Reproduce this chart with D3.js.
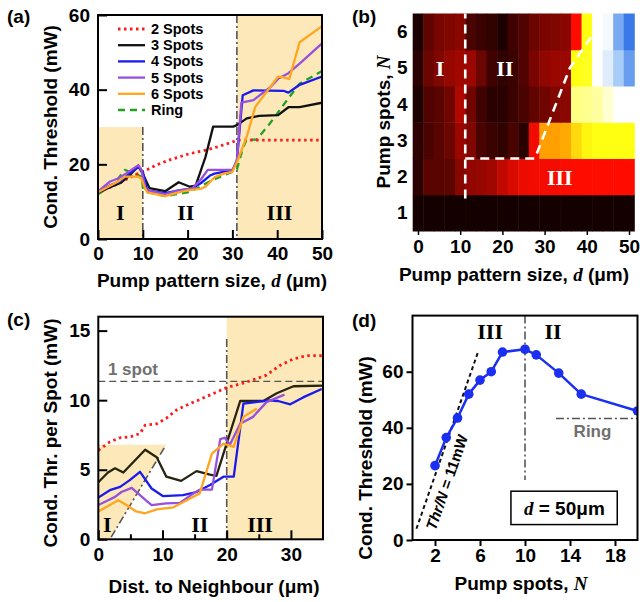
<!DOCTYPE html>
<html>
<head>
<meta charset="utf-8">
<script src="https://cdn.jsdelivr.net/npm/d3@7"></script>
<style>
  body { margin: 0; background: #fff; }
  text { font-family: "Liberation Sans", Arial, sans-serif; font-weight: bold; }
  .serif { font-family: "Liberation Serif", "Times New Roman", serif; }
</style>
</head>
<body>
<svg id="fig" width="640" height="602"></svg>
<script>
// ---- panel (a): threshold vs pattern size
var aRedX = [0, 3, 6, 8, 10, 13, 16, 20, 24, 27, 30, 31.5, 35, 40, 45, 50];
var aRedY = [12.5, 14, 15.8, 17, 18, 19.8, 21.2, 22.7, 23.8, 24.8, 26, 26.5, 26.5, 26.5, 26.5, 26.5];
var aBlackX = [0, 3, 5, 7, 9, 10, 11.5, 15, 18, 20.5, 21.8, 24, 25.7, 30.2, 31, 33.2, 36, 40.2, 42.5, 45, 50];
var aBlackY = [12.5, 14, 15, 17, 19.5, 17.5, 13.6, 12.8, 15.2, 14, 14.3, 22, 30.1, 30.1, 30.5, 32.3, 33, 33.2, 35.3, 35.3, 36.5];
var aBlueX = [0, 3, 5, 7, 9, 10, 11, 15, 18, 21, 23, 25, 26, 28, 30, 31, 32.3, 34.7, 41.4, 42.5, 45, 50];
var aBlueY = [12.5, 14.5, 15.5, 17.5, 19.3, 18, 13, 12.3, 13, 13.5, 15, 17, 17.5, 18, 18.3, 21, 38.5, 39.8, 39.7, 39.2, 41.3, 43.5];
var aPurpleX = [0, 2.7, 4.5, 6.4, 9, 9.7, 10.5, 11, 15, 18, 21, 23, 24.5, 27, 30, 31, 32, 34.7, 38.4, 40.2, 42.5, 45, 50];
var aPurpleY = [12.7, 15.4, 16.2, 17.6, 19.8, 18.5, 14, 13, 12, 13, 13.5, 16, 18.5, 18.5, 18.5, 21, 36.5, 37.2, 40.6, 42.9, 44.4, 47, 52.4];
var aOrangeX = [0, 4.5, 6, 9, 9.7, 10.5, 11, 15, 18, 20, 23, 24, 26, 28, 30, 31, 33.2, 35.1, 38.4, 40.2, 41.4, 42.7, 45, 50];
var aOrangeY = [12.5, 15.4, 16.7, 16.7, 16.2, 13.5, 12.5, 11.5, 12.5, 13, 13.5, 14, 16.5, 17.5, 18, 20.5, 27.4, 35.4, 40.6, 43.5, 43.3, 42.9, 52.7, 57];
var aRingX = [0, 3.4, 6, 7.9, 9.7, 10.1, 11.2, 15, 20, 22, 25, 28, 30, 31, 32.4, 33.2, 35.4, 38.4, 42.7, 45, 50];
var aRingY = [12, 14.5, 18.5, 17.6, 16.7, 13.1, 12.5, 11.5, 12.5, 13.5, 15.5, 17, 18, 18.6, 24.6, 26.6, 26.6, 31, 38, 41.6, 45];
var aXTicks = [0, 10, 20, 30, 40, 50];
var aYTicks = [0, 20, 40, 60];
var legendNames = ['2 Spots', '3 Spots', '4 Spots', '5 Spots', '6 Spots', 'Ring'];

// ---- panel (b): heat map, rows N = 1..6, columns d = 0..50
var bD = [0, 2.5, 5, 7.5, 10, 12.5, 15, 17.5, 20, 22.5, 25, 27.5, 30, 32.5, 35, 37.5, 40, 42.5, 45, 47.5, 50];
var bN = [1, 2, 3, 4, 5, 6];
var bLevels = [
  [0.01, 0.01, 0.01, 0.01, 0.01, 0.01, 0.01, 0.01, 0.01, 0.01, 0.01, 0.01, 0.01, 0.01, 0.01, 0.01, 0.01, 0.01, 0.01, 0.01, 0.01],
  [0.055, 0.155, 0.155, 0.16, 0.25, 0.27, 0.28, 0.3, 0.37, 0.42, 0.46, 0.47, 0.48, 0.48, 0.49, 0.5, 0.5, 0.5, 0.5, 0.5, 0.5],
  [0.06, 0.12, 0.155, 0.19, 0.29, 0.234, 0.12, 0.088, 0.067, 0.12, 0.055, 0.47, 0.6, 0.6, 0.61, 0.66, 0.69, 0.7, 0.7, 0.7, 0.7],
  [0.025, 0.134, 0.155, 0.2, 0.335, 0.2, 0.1, 0.055, 0.055, 0.088, 0.12, 0.167, 0.2, 0.234, 0.255, 0.77, 0.78, 0.79, 0.82, 0.85, 0.85],
  [0.055, 0.188, 0.234, 0.28, 0.3, 0.289, 0.188, 0.1, 0.067, 0.088, 0.134, 0.222, 0.268, 0.289, 0.289, 0.7, 0.71, 0.85, 0.88, 0.93, 0.97],
  [0.025, 0.167, 0.218, 0.234, 0.255, 0.12, 0.088, 0.067, 0.025, 0.1, 0.134, 0.188, 0.222, 0.234, 0.255, 0.5, 0.7, 0.85, 0.86, 0.96, 1.0]
];
var bXTicks = [0, 10, 20, 30, 40, 50];
var bBorderV = [[11.2, 1.4], [11.2, 6.5]];
var bBorderH = [[11.2, 2.5], [27.7, 2.5], [36, 5], [41, 5.85]];

// ---- panel (c): threshold per spot vs distance to neighbour
var cRedX = [0, 1.8, 3.4, 4.9, 6.5, 7.3, 9.1, 10.6, 12.2, 14.3, 16.9, 20, 23.1, 26.2, 28.3, 30.4, 32.5, 35];
var cRedY = [6.4, 7.0, 7.3, 7.35, 7.6, 8.2, 8.3, 8.7, 9.3, 9.75, 10.27, 10.9, 11.3, 11.8, 12.5, 12.97, 13.2, 13.2];
var cBlackX = [0, 1.5, 2.6, 3.9, 7.3, 9.1, 10.6, 12.9, 15.3, 17.4, 18.4, 20, 22.1, 25.7, 27.8, 30.4, 35];
var cBlackY = [4.1, 4.8, 5.1, 4.8, 6.44, 5.9, 4.5, 4.2, 4.9, 4.65, 4.56, 6.9, 9.94, 9.94, 10.5, 11.0, 11.05];
var cBlueX = [0, 1.8, 3.4, 4.9, 6.5, 8.3, 10.1, 13.2, 15.3, 17.4, 19.5, 21.1, 22.6, 26.5, 28, 29.9, 31.9, 34.8];
var cBlueY = [3.0, 3.53, 3.77, 4.25, 4.85, 3.65, 3.1, 3.17, 3.4, 3.9, 4.5, 4.5, 9.75, 9.99, 9.94, 9.7, 10.2, 10.8];
var cPurpleX = [0, 1.3, 2.6, 3.6, 5.2, 6.8, 8.3, 10.6, 12.7, 14.8, 15.8, 17.7, 19, 19.7, 20.5, 22.1, 24.1, 26.2, 29];
var cPurpleY = [2.46, 2.75, 3.05, 3.4, 3.7, 3.05, 2.46, 2.58, 2.62, 3.29, 3.57, 3.57, 7.2, 7.3, 6.8, 8.3, 8.8, 9.86, 10.4];
var cOrangeX = [0, 1.8, 3.1, 4.4, 5.9, 7.3, 9.1, 11.7, 14.3, 15.8, 17.7, 19.5, 21.1, 22.6, 24.7];
var cOrangeY = [2.0, 2.46, 2.8, 2.46, 2.0, 1.87, 2.15, 2.3, 2.94, 3.3, 6.16, 6.88, 6.64, 8.8, 9.39];
var cShadeI = [[0, 0], [0, 6.8], [10.6, 6.8], [1.8, 0]];
var cXTicks = [0, 10, 20, 30];
var cXMinor = [5, 15, 25];
var cYTicks = [0, 5, 10, 15];
var cOneSpot = 11.35;

// ---- panel (d): threshold vs number of spots at d = 50 um
var dN = [2, 3, 4, 5, 6, 7, 8, 10, 11, 13, 15, 20];
var dThr = [26.5, 36.5, 43.5, 52, 57, 60, 67, 68, 66, 59.5, 52, 46];
var dGuideN = [0.35, 5.85];
var dGuideThr = [4, 67.3];
var dRing = 43.3;
var dXTicks = [2, 6, 10, 14, 18];
var dYTicks = [0, 20, 40, 60];

var shade = '#fce8b8';
var seriesColors = ['#ff1a1a', '#111111', '#1a1aee', '#9650dc', '#ffa51f', '#23a023'];
var seriesDash = ['2.5,3.5', null, null, null, null, '7,5'];

var svg = d3.select('#fig');

function styleAxis(g, size) {
  g.select('.domain').remove();
  g.selectAll('.tick line').attr('stroke', '#000').attr('stroke-width', 2);
  g.selectAll('.tick text').attr('fill', '#000').style('font-size', (size || 19) + 'px');
}

function addLine(g, xs, ys, x, y, color, dash, width) {
  var pts = xs.map(function(v, i) { return [v, ys[i]]; });
  g.append('path').datum(pts)
    .attr('d', d3.line().x(function(d) { return x(d[0]); }).y(function(d) { return y(d[1]); }))
    .attr('fill', 'none')
    .attr('stroke', color)
    .attr('stroke-width', width || 2.3)
    .attr('stroke-linejoin', 'round')
    .attr('stroke-dasharray', dash);
}

function clipFor(id, x, y) {
  svg.append('clipPath').attr('id', id).append('rect')
    .attr('x', x.range()[0]).attr('y', y.range()[1])
    .attr('width', x.range()[1] - x.range()[0]).attr('height', y.range()[0] - y.range()[1]);
}

function roman(g, txt, x, y, color, size) {
  g.append('text').attr('class', 'serif').attr('x', x).attr('y', y)
    .attr('text-anchor', 'middle').attr('fill', color || '#000')
    .style('font-size', (size || 22) + 'px').text(txt);
}

function frame(g, x, y) {
  g.append('rect').attr('x', x.range()[0]).attr('y', y.range()[1])
    .attr('width', x.range()[1] - x.range()[0]).attr('height', y.range()[0] - y.range()[1])
    .attr('fill', 'none').attr('stroke', '#000').attr('stroke-width', 2);
}

function yTitle(cx, cy, parts) {
  var t = svg.append('text').attr('transform', 'translate(' + cx + ',' + cy + ') rotate(-90)')
    .attr('text-anchor', 'middle').style('font-size', '19px');
  parts.forEach(function(p) {
    var s = t.append('tspan').text(p[0]);
    if (p[1]) s.attr('class', 'serif').style('font-style', 'italic');
  });
}

function xTitle(cx, cy, parts) {
  var t = svg.append('text').attr('x', cx).attr('y', cy)
    .attr('text-anchor', 'middle').style('font-size', '19px');
  parts.forEach(function(p) {
    var s = t.append('tspan').text(p[0]);
    if (p[1]) s.attr('class', 'serif').style('font-style', 'italic');
  });
}

function panelLabel(txt, x, y) {
  svg.append('text').attr('x', x).attr('y', y).style('font-size', '19px').text(txt);
}

// ================= (a)
var ax = d3.scaleLinear().domain([0, 50]).range([98, 322]);
var ay = d3.scaleLinear().domain([0, 60]).range([239, 15]);
clipFor('clipA', ax, ay);
var gA = svg.append('g');
var gAc = gA.append('g').attr('clip-path', 'url(#clipA)');
gAc.append('rect').attr('x', ax(0)).attr('y', ay(30)).attr('width', ax(10) - ax(0)).attr('height', ay(0) - ay(30)).attr('fill', shade);
gAc.append('rect').attr('x', ax(31)).attr('y', ay(60)).attr('width', ax(50) - ax(31)).attr('height', ay(0) - ay(60)).attr('fill', shade);
addLine(gAc, [10, 10], [30, 0], ax, ay, '#555', '8,3,2,3', 1.6);
addLine(gAc, [31, 31], [60, 0], ax, ay, '#555', '8,3,2,3', 1.6);
roman(gAc, 'I', ax(5), ay(5.1));
roman(gAc, 'II', ax(19.6), ay(5.1));
roman(gAc, 'III', ax(40.5), ay(5.1));
var aSeries = [[aRedX, aRedY], [aBlackX, aBlackY], [aBlueX, aBlueY], [aPurpleX, aPurpleY], [aOrangeX, aOrangeY], [aRingX, aRingY]];
var aOrder = [5, 0, 1, 2, 3, 4];
aOrder.forEach(function(i) {
  addLine(gAc, aSeries[i][0], aSeries[i][1], ax, ay, seriesColors[i], seriesDash[i], i === 0 ? 2.8 : 2.3);
});
gA.append('g').attr('transform', 'translate(0,' + ay(0) + ')')
  .call(d3.axisBottom(ax).tickValues(aXTicks).tickSize(-9).tickPadding(8)).call(styleAxis);
gA.append('g').attr('transform', 'translate(' + ax(0) + ',0)')
  .call(d3.axisLeft(ay).tickValues(aYTicks).tickSize(-9).tickPadding(8)).call(styleAxis);
frame(gA, ax, ay);
// legend
var leg = gA.append('g');
legendNames.forEach(function(name, i) {
  var yy = 29 + i * 16.2;
  leg.append('line').attr('x1', 118).attr('x2', 145).attr('y1', yy).attr('y2', yy)
    .attr('stroke', seriesColors[i]).attr('stroke-width', i === 0 ? 2.8 : 2.3)
    .attr('stroke-dasharray', seriesDash[i]);
  leg.append('text').attr('x', 151).attr('y', yy + 5).style('font-size', '14.5px').text(name);
});
yTitle(57, 127, [['Cond. Threshold (mW)']]);
xTitle(212, 287, [['Pump pattern size, '], ['d', true], [' (\u03bcm)']]);
panelLabel('(a)', 7, 23);

// ================= (b)
var bx = d3.scaleLinear().domain([-1.25, 51.25]).range([412.7, 634.3]);
var by = d3.scaleLinear().domain([0.5, 6.5]).range([231, 13.5]);
var heat = d3.scaleLinear()
  .domain([0, 0.5, 0.6, 0.7, 0.8, 0.85, 0.93, 1])
  .range(['#100000', '#ff0c00', '#ffa000', '#ffff12', '#ffffb0', '#ffffff', '#a8ccf8', '#3a7ae8'])
  .clamp(true);
var gB = svg.append('g');
var cells = [];
bLevels.forEach(function(row, r) {
  row.forEach(function(v, c) { cells.push({ d: bD[c], n: bN[r], v: v }); });
});
gB.selectAll('rect.cell').data(cells).enter().append('rect').attr('class', 'cell')
  .attr('x', function(d) { return bx(d.d - 1.25); })
  .attr('y', function(d) { return by(d.n + 0.5); })
  .attr('width', bx(1.25) - bx(-1.25) + 0.5)
  .attr('height', by(0.5) - by(1.5) + 0.5)
  .attr('fill', function(d) { return heat(d.v); });
var bline = d3.line().x(function(d) { return bx(d[0]); }).y(function(d) { return by(d[1]); });
[bBorderV, bBorderH].forEach(function(pts) {
  gB.append('path').datum(pts).attr('d', bline).attr('fill', 'none')
    .attr('stroke', '#fff').attr('stroke-width', 2.6).attr('stroke-dasharray', '9,6');
});
roman(gB, 'I', bx(5.2), by(5) + 8, '#fff');
roman(gB, 'II', bx(20.6), by(5) + 8, '#fff');
roman(gB, 'III', bx(33.6), by(2) + 8, '#fff');
gB.append('g').attr('transform', 'translate(0,' + by(0.5) + ')')
  .call(d3.axisBottom(bx).tickValues(bXTicks).tickSize(4).tickPadding(5)).call(styleAxis);
gB.append('g').attr('transform', 'translate(' + bx(-1.25) + ',0)')
  .call(d3.axisLeft(by).tickValues(bN).tickFormat(d3.format('d')).tickSize(0).tickPadding(5)).call(styleAxis);
gB.selectAll('.tick line').attr('stroke-width', 1.5);
yTitle(390, 122, [['Pump spots, '], ['N', true]]);
xTitle(514, 281, [['Pump pattern size, '], ['d', true], [' (\u03bcm)']]);
panelLabel('(b)', 352, 23);

// ================= (c)
var cx = d3.scaleLinear().domain([0, 35]).range([98.3, 323]);
var cy = d3.scaleLinear().domain([0, 16]).range([539.3, 316.7]);
clipFor('clipC', cx, cy);
var gC = svg.append('g');
var gCc = gC.append('g').attr('clip-path', 'url(#clipC)');
gCc.append('path').datum(cShadeI)
  .attr('d', d3.line().x(function(d) { return cx(d[0]); }).y(function(d) { return cy(d[1]); }))
  .attr('fill', shade);
gCc.append('rect').attr('x', cx(20)).attr('y', cy(16)).attr('width', cx(35) - cx(20)).attr('height', cy(0) - cy(16)).attr('fill', shade);
addLine(gCc, [2, 10.3], [0.15, 6.6], cx, cy, '#555', '8,3,2,3', 1.6);
addLine(gCc, [20, 20], [14.4, 0], cx, cy, '#555', '8,3,2,3', 1.6);
addLine(gCc, [0, 35], [cOneSpot, cOneSpot], cx, cy, '#555', '7,4', 1.4);
gCc.append('text').attr('x', cx(1.5)).attr('y', cy(11.8)).attr('fill', '#707070').style('font-size', '17px').text('1 spot');
roman(gCc, 'I', cx(1.4), cy(0.55));
roman(gCc, 'II', cx(15.8), cy(0.55));
roman(gCc, 'III', cx(25.2), cy(0.55));
addLine(gCc, cRedX, cRedY, cx, cy, seriesColors[0], seriesDash[0], 2.8);
addLine(gCc, cBlackX, cBlackY, cx, cy, '#26240f', null, 2.3);
addLine(gCc, cBlueX, cBlueY, cx, cy, seriesColors[2], null, 2.3);
addLine(gCc, cPurpleX, cPurpleY, cx, cy, seriesColors[3], null, 2.3);
addLine(gCc, cOrangeX, cOrangeY, cx, cy, seriesColors[4], null, 2.3);
gC.append('g').attr('transform', 'translate(0,' + cy(0) + ')')
  .call(d3.axisBottom(cx).tickValues(cXTicks).tickSize(-9).tickPadding(8)).call(styleAxis);
gC.append('g').attr('transform', 'translate(0,' + cy(0) + ')')
  .call(d3.axisBottom(cx).tickValues(cXMinor).tickSize(-5).tickFormat('')).call(styleAxis);
gC.append('g').attr('transform', 'translate(' + cx(0) + ',0)')
  .call(d3.axisLeft(cy).tickValues(cYTicks).tickSize(-9).tickPadding(8)).call(styleAxis);
frame(gC, cx, cy);
yTitle(57, 433, [['Cond. Thr. per Spot (mW)']]);
xTitle(214, 593, [['Dist. to Neighbour (\u03bcm)']]);
panelLabel('(c)', 7, 326);

// ================= (d)
var dx = d3.scaleLinear().domain([0, 20]).range([412.5, 637.5]);
var dy = d3.scaleLinear().domain([0, 80]).range([540, 315.6]);
clipFor('clipD', dx, dy);
var gD = svg.append('g');
var gDc = gD.append('g').attr('clip-path', 'url(#clipD)');
addLine(gDc, dGuideN, dGuideThr, dx, dy, '#111', '4,3', 2);
addLine(gDc, [10, 10], [80, 21.4], dx, dy, '#555', '8,3,2,3', 1.6);
addLine(gDc, [12.75, 20], [dRing, dRing], dx, dy, '#555', '8,3,2,3', 1.6);
gDc.append('text').attr('x', dx(16)).attr('y', dy(36.8)).attr('text-anchor', 'middle')
  .attr('fill', '#707070').style('font-size', '17px').text('Ring');
roman(gDc, 'III', dx(6.9), dy(71.5));
roman(gDc, 'II', dx(12.5), dy(71.5));
addLine(gDc, dN, dThr, dx, dy, '#1a2ff0', null, 2.5);
gDc.selectAll('circle').data(dN).enter().append('circle')
  .attr('cx', function(d) { return dx(d); })
  .attr('cy', function(d, i) { return dy(dThr[i]); })
  .attr('r', 4.8).attr('fill', '#1a2ff0');
// guide label, rotated along the dashed line
var gAngle = Math.atan2(dy(dGuideThr[1]) - dy(dGuideThr[0]), dx(dGuideN[1]) - dx(dGuideN[0])) * 180 / Math.PI;
var gl = gD.append('text').attr('transform', 'translate(' + dx(3.5) + ',' + dy(20) + ') rotate(' + gAngle + ')')
  .attr('text-anchor', 'middle').style('font-size', '15px');
gl.append('tspan').style('font-style', 'italic').text('Thr/N');
gl.append('tspan').text(' = 11mW');
// d = 50 um box
gD.append('rect').attr('x', dx(8.75)).attr('y', dy(17.4)).attr('width', dx(18.2) - dx(8.75)).attr('height', dy(5.5) - dy(17.4))
  .attr('fill', '#fff').attr('stroke', '#000').attr('stroke-width', 1.5);
var bt = gD.append('text').attr('x', dx(13.5)).attr('y', dy(8.8)).attr('text-anchor', 'middle').style('font-size', '19px');
bt.append('tspan').attr('class', 'serif').style('font-style', 'italic').text('d');
bt.append('tspan').text(' = 50\u03bcm');
gD.append('g').attr('transform', 'translate(0,' + dy(0) + ')')
  .call(d3.axisBottom(dx).tickValues(dXTicks).tickSize(6).tickPadding(3)).call(styleAxis);
gD.append('g').attr('transform', 'translate(' + dx(0) + ',0)')
  .call(d3.axisLeft(dy).tickValues(dYTicks).tickSize(6).tickPadding(3)).call(styleAxis);
frame(gD, dx, dy);
yTitle(372, 458, [['Cond. Threshold (mW)']]);
xTitle(521, 590, [['Pump spots, '], ['N', true]]);
panelLabel('(d)', 352, 327);
</script>
</body>
</html>
